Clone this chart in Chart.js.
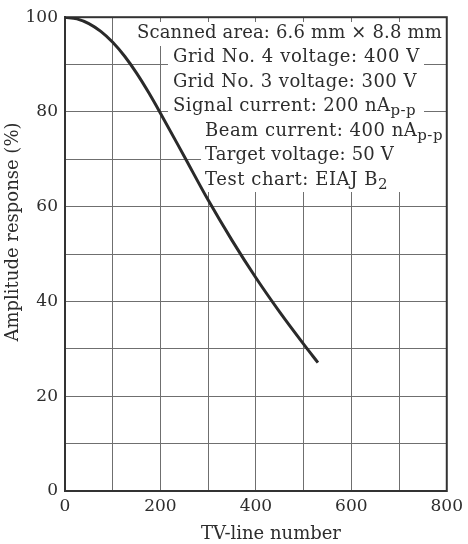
<!DOCTYPE html>
<html>
<head>
<meta charset="utf-8">
<script src="https://cdn.jsdelivr.net/npm/chart.js@4/dist/chart.umd.min.js"></script>
<style>
  html, body { margin: 0; padding: 0; background: #ffffff; }
  canvas { display: block; }
</style>
</head>
<body>
<canvas id="c" width="468" height="544"></canvas>
<script>
// Horizontal resolution (TV lines) and measured amplitude response (%)
const tvLines  = [0, 25, 50, 75, 100, 125, 150, 175, 200, 250, 300, 350, 400, 450, 500, 530];
const response = [100, 99.65, 98.65, 97.0, 94.7, 91.75, 88.2, 84.15, 79.75, 70.6, 61.4, 52.9, 45.0, 37.75, 31.0, 27.1];

// Axis ranges, labelled tick values and titles
const xRange = [0, 800];
const yRange = [0, 100];
const xLabelled = [0, 200, 400, 600, 800];
const yLabelled = [0, 20, 40, 60, 80, 100];
const xTitle = 'TV-line number';
const yTitle = 'Amplitude response (%)';

// Measurement conditions; each entry is a list of [text, subscript?] runs
const conditions = [
  [["Scanned area: 6.6 mm \u00d7 8.8 mm", false]],
  [["Grid No. 4 voltage: 400 V", false]],
  [["Grid No. 3 voltage: 300 V", false]],
  [["Signal current: 200 nA", false], ["p-p", true]],
  [["Beam current: 400 nA", false], ["p-p", true]],
  [["Target voltage: 50 V", false]],
  [["Test chart: EIAJ B", false], ["2", true]]
];

const INK = '#2d2d2d';
const SERIF = '"DejaVu Serif", "Liberation Serif", serif';

// Text block in the upper right (on white, so the grid stops behind it),
// the plot frame and the two axis titles
const annotationPlugin = {
  id: 'annotations',
  beforeDatasetsDraw(chart) {
    const ctx = chart.ctx;
    const area = chart.chartArea;
    ctx.save();
    ctx.fillStyle = '#ffffff';
    ctx.fillRect(134, 22, 312, 24);
    ctx.fillRect(168, 46, 256, 74);
    ctx.fillRect(201, 120, 245, 72);

    // left edge, right edge and vertical centre of each line
    const startX = [137, 173, 173, 173, 205, 205, 205];
    const endX   = [442, 420, 417, 416, 443, 394, 388];
    const lineY  = [33, 57.5, 82, 106.5, 131, 155.5, 180];
    const runFont = sub => (sub ? '15px ' : '18px ') + SERIF;
    ctx.fillStyle = INK;
    ctx.textBaseline = 'middle';
    ctx.textAlign = 'left';
    conditions.forEach((runs, i) => {
      ctx.letterSpacing = '0px';
      let natural = 0, chars = 0;
      runs.forEach(([txt, sub]) => {
        ctx.font = runFont(sub);
        natural += ctx.measureText(txt).width;
        chars += txt.length;
      });
      const sp = Math.max(0, (endX[i] - startX[i] - natural) / chars);
      let x = startX[i];
      runs.forEach(([txt, sub]) => {
        ctx.font = runFont(sub);
        ctx.letterSpacing = '0px';
        const w = ctx.measureText(txt).width;
        ctx.letterSpacing = sp.toFixed(2) + 'px';
        ctx.fillText(txt, x, sub ? lineY[i] + 5 : lineY[i]);
        x += w + sp * txt.length;
      });
    });
    ctx.letterSpacing = '0px';

    ctx.strokeStyle = '#333333';
    ctx.lineWidth = 2;
    ctx.strokeRect(area.left, area.top, area.right - area.left, area.bottom - area.top);

    ctx.fillStyle = INK;
    ctx.font = '18px ' + SERIF;
    ctx.textAlign = 'center';
    ctx.textBaseline = 'middle';
    ctx.fillText(xTitle, 271, 534);
    ctx.translate(13, 232);
    ctx.rotate(-Math.PI / 2);
    ctx.fillText(yTitle, 0, 0);
    ctx.restore();
  }
};

new Chart(document.getElementById('c'), {
  type: 'line',
  data: {
    datasets: [{
      data: tvLines.map((x, i) => ({ x: x, y: response[i] })),
      borderColor: '#2a2a2a',
      borderWidth: 3,
      pointRadius: 0,
      fill: false,
      cubicInterpolationMode: 'monotone'
    }]
  },
  options: {
    responsive: false,
    animation: false,
    events: [],
    layout: { padding: { top: 17, right: 16, left: 0, bottom: 0 } },
    plugins: { legend: { display: false }, tooltip: { enabled: false } },
    scales: {
      x: {
        type: 'linear',
        min: xRange[0],
        max: xRange[1],
        afterFit(scale) { scale.height = 53; },
        ticks: {
          stepSize: 100,
          autoSkip: false,
          maxRotation: 0,
          padding: 5,
          color: INK,
          font: { family: SERIF, size: 17 },
          callback: v => (xLabelled.includes(v) ? String(v) : '')
        },
        grid: { color: '#6f6f6f', lineWidth: 1, drawTicks: false },
        border: { display: true, color: '#333333', width: 2 },
        title: { display: false, text: xTitle }
      },
      y: {
        min: yRange[0],
        max: yRange[1],
        afterFit(scale) { scale.width = 65; },
        ticks: {
          stepSize: 10,
          autoSkip: false,
          padding: 7,
          color: INK,
          font: { family: SERIF, size: 17 },
          callback: v => (yLabelled.includes(v) ? String(v) : '')
        },
        grid: { color: '#6f6f6f', lineWidth: 1, drawTicks: false },
        border: { display: true, color: '#333333', width: 2 },
        title: { display: false, text: yTitle }
      }
    }
  },
  plugins: [annotationPlugin]
});
</script>
</body>
</html>
